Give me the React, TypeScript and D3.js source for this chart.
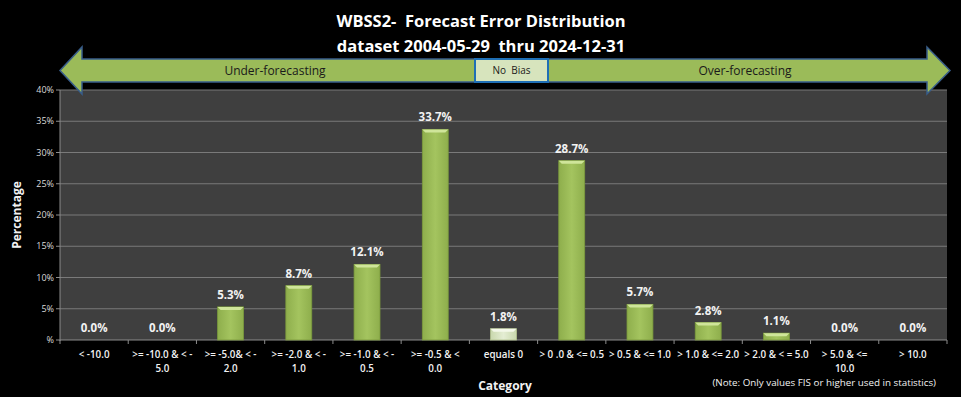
import React from 'react';
import * as d3 from 'd3';

// chart data
const categories = [
  ['< -10.0'],
  ['>= -10.0 & < -', '5.0'],
  ['>= -5.0& < -', '2.0'],
  ['>= -2.0 & < -', '1.0'],
  ['>= -1.0 & < -', '0.5'],
  ['>= -0.5 & <', '0.0'],
  ['equals 0'],
  ['> 0 .0 & <= 0.5'],
  ['> 0.5 & <= 1.0'],
  ['> 1.0 & <= 2.0'],
  ['> 2.0 & < = 5.0'],
  ['> 5.0 & <=', '10.0'],
  ['> 10.0'],
];
const percents = [0.0, 0.0, 5.3, 8.7, 12.1, 33.7, 1.8, 28.7, 5.7, 2.8, 1.1, 0.0, 0.0];
const yTicks = [0, 5, 10, 15, 20, 25, 30, 35, 40];
const neutralIndex = 6;

const W = 961, H = 397;
const m = { left: 60, right: 14, top: 90, bottom: 57 };
const font = '"Open Sans", "DejaVu Sans", sans-serif';
const pre = { whiteSpace: 'pre' as const };

export default function App() {
  var x = d3.scaleBand<number>()
    .domain(d3.range(categories.length))
    .range([m.left, W - m.right])
    .paddingInner(0.62)
    .paddingOuter(0.31);
  var y = d3.scaleLinear().domain([0, 40]).range([H - m.bottom, m.top]);
  var step = x.step();
  var bottom = y(0);

  // arrow shapes across the top
  var bodyTop = 59, bodyBot = 82, headTop = 47, headBot = 94, midY = 70.5;
  var leftArrow = `M60,${midY} L82,${headTop} L82,${bodyTop} L475,${bodyTop} L475,${bodyBot} L82,${bodyBot} L82,${headBot} Z`;
  var rightArrow = `M950,${midY} L927,${headTop} L927,${bodyTop} L548,${bodyTop} L548,${bodyBot} L927,${bodyBot} L927,${headBot} Z`;

  return (
    <svg width={W} height={H} style={{ position: 'absolute', left: 0, top: 0, background: '#000' }}
      fontFamily={font}>
      <defs>
        <linearGradient id="barG" x1="0" x2="1" y1="0" y2="0">
          <stop offset="0" stopColor="#8eae4c" />
          <stop offset="0.5" stopColor="#a4c45f" />
          <stop offset="1" stopColor="#8eae4c" />
        </linearGradient>
        <linearGradient id="barN" x1="0" x2="1" y1="0" y2="0">
          <stop offset="0" stopColor="#c9d8ad" />
          <stop offset="0.5" stopColor="#e4edd3" />
          <stop offset="1" stopColor="#c9d8ad" />
        </linearGradient>
      </defs>
      <rect width={W} height={H} fill="#000" />

      {/* plot area */}
      <rect x={m.left} y={m.top} width={W - m.right - m.left} height={bottom - m.top} fill="#3f3f3f" />
      {yTicks.map(t => (
        <g key={t}>
          {t > 0 && <line x1={m.left} x2={W - m.right} y1={y(t)} y2={y(t)} stroke="#7a7a7a" strokeWidth={1} />}
          <line x1={m.left - 4} x2={m.left} y1={y(t)} y2={y(t)} stroke="#8c8c8c" />
          <text x={m.left - 6} y={y(t)} dy="0.35em" textAnchor="end" fontSize={9} fill="#d9d9d9">
            {t === 0 ? '%' : t + '%'}
          </text>
        </g>
      ))}
      <line x1={m.left} x2={m.left} y1={m.top} y2={bottom + 1} stroke="#8c8c8c" />
      <line x1={m.left} x2={W - m.right} y1={bottom} y2={bottom} stroke="#8c8c8c" />
      {d3.range(categories.length + 1).map(i => (
        <line key={i} x1={m.left + i * step} x2={m.left + i * step} y1={bottom} y2={bottom + 4} stroke="#8c8c8c" />
      ))}

      {/* bars */}
      {percents.map((v, i) => {
        var bx = x(i)!, bw = x.bandwidth(), by = y(v), bh = bottom - by;
        var neutral = i === neutralIndex;
        return (
          <g key={i}>
            {bh > 0 && (
              <g>
                <rect x={bx} y={by} width={bw} height={bh} fill={neutral ? 'url(#barN)' : 'url(#barG)'}
                  stroke={neutral ? '#b3c48f' : '#7a9a3c'} strokeWidth={0.8} />
                <path d={`M${bx},${by} L${bx + bw},${by} L${bx + bw - 3},${by + 3} L${bx + 3},${by + 3} Z`}
                  fill={neutral ? '#f4f8ea' : '#cfe59a'} />
              </g>
            )}
            <text x={bx + bw / 2} y={by - 8} textAnchor="middle" fontSize={11.5} fontWeight="bold" fill="#f2f2f2">
              {v.toFixed(1) + '%'}
            </text>
          </g>
        );
      })}

      {/* category labels */}
      {categories.map((lines, i) => (
        <text key={i} x={x(i)! + x.bandwidth() / 2} y={358} textAnchor="middle" fontSize={9.8} fontWeight="600" fill="#f2f2f2">
          {lines.map((l, j) => (
            <tspan key={j} x={x(i)! + x.bandwidth() / 2} dy={j === 0 ? 0 : 14}>{l}</tspan>
          ))}
        </text>
      ))}

      <text x={505} y={390} textAnchor="middle" fontSize={12} fontWeight="bold" fill="#f2f2f2">Category</text>
      <text x={936} y={386} textAnchor="end" fontSize={9.8} fill="#f2f2f2">(Note: Only values FIS or higher used in statistics)</text>
      <text transform={`translate(21,${(m.top + bottom) / 2}) rotate(-90)`} textAnchor="middle" fontSize={12}
        fontWeight="bold" fill="#f2f2f2">Percentage</text>

      {/* titles */}
      <text x={481} y={27} textAnchor="middle" fontSize={16.5} fontWeight="bold" fill="#fff" style={pre}>WBSS2-  Forecast Error Distribution</text>
      <text x={481} y={52} textAnchor="middle" fontSize={16.5} fontWeight="bold" fill="#fff" style={pre}>dataset 2004-05-29  thru 2024-12-31</text>

      {/* direction arrows */}
      <path d={leftArrow} fill="#9bbb59" stroke="#385d8a" strokeWidth={1.5} />
      <path d={rightArrow} fill="#9bbb59" stroke="#385d8a" strokeWidth={1.5} />
      <rect x={475} y={bodyTop} width={73} height={bodyBot - bodyTop} fill="#d7e4bd" stroke="#1f6fb5" strokeWidth={2} />
      <text x={275} y={midY} dy="0.36em" textAnchor="middle" fontSize={12} fill="#1a1a1a">Under-forecasting</text>
      <text x={745} y={midY} dy="0.36em" textAnchor="middle" fontSize={12} fill="#1a1a1a">Over-forecasting</text>
      <text x={511.5} y={midY} dy="0.36em" textAnchor="middle" fontSize={10} fill="#1a1a1a" style={pre}>No  Bias</text>
    </svg>
  );
}
